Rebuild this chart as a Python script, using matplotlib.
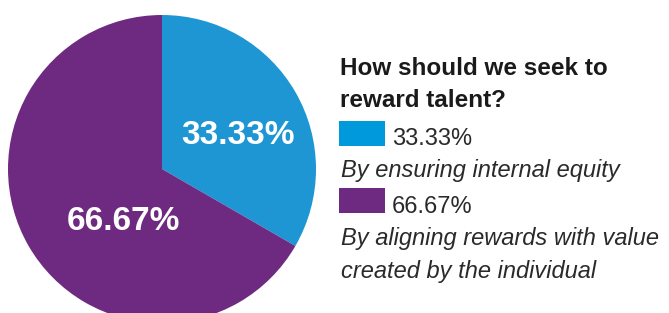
import matplotlib
matplotlib.use("Agg")
import matplotlib.pyplot as plt
from matplotlib.patches import Rectangle
import numpy as np

# Data
categories = ["By ensuring internal equity",
              "By aligning rewards with value\ncreated by the individual"]
values = [33.33, 66.67]
pie_colors = ["#1f96d4", "#6e2a80"]
legend_colors = ["#0099dc", "#6e2a80"]
title = "How should we seek to\nreward talent?"

W, H = 669, 313
fig = plt.figure(figsize=(W / 100, H / 100), dpi=100)
plt.rcParams['font.family'] = ['Liberation Sans', 'DejaVu Sans']

# Pie axes: center (162,169) px from top, radius 154
cx, cy, r = 162, 169, 154
ax = fig.add_axes([(cx - r) / W, (H - cy - r) / H, 2 * r / W, 2 * r / H])
wedges, texts, autotexts = ax.pie(values, colors=pie_colors, startangle=90,
                                  counterclock=False, radius=1,
                                  autopct='%.2f%%', pctdistance=0.5,
                                  wedgeprops=dict(linewidth=0),
                                  textprops=dict(color='white', fontsize=24,
                                                 fontweight='bold'))
ax.set_xlim(-1, 1)
ax.set_ylim(-1, 1)
ax.set_aspect('equal')
ax.axis('off')
# label positions (in pie radius units)
label_pos = [((238 - cx) / r, (cy - 135) / r), ((123 - cx) / r, (cy - 221) / r)]
for t, (x, y) in zip(autotexts, label_pos):
    t.set_position((x, y))
    t.set_ha('center')
    t.set_va('center')

def fy(py):
    return 1 - py / H

# Legend title
tl = title.split("\n")
fig.text(340 / W, fy(75), tl[0], fontsize=17.5, fontweight='bold',
         color='#1a1a1a', va='baseline', ha='left')
fig.text(340 / W, fy(107), tl[1], fontsize=17.5, fontweight='bold',
         color='#1a1a1a', va='baseline', ha='left')

# Legend entries
patch_tops = [121, 188]
pct_base = [145, 213]
desc_bases = [[177], [245, 278]]
for i in range(len(values)):
    top = patch_tops[i]
    fig.add_artist(Rectangle((339 / W, fy(top + 25)), 46 / W, 25 / H,
                             transform=fig.transFigure,
                             facecolor=legend_colors[i], edgecolor='none'))
    fig.text(392 / W, fy(pct_base[i]), f"{values[i]:.2f}%", fontsize=17,
             color='#2a2a2a', va='baseline', ha='left')
    for line, b in zip(categories[i].split("\n"), desc_bases[i]):
        fig.text(341 / W, fy(b), line, fontsize=17, style='italic',
                 color='#2a2a2a', va='baseline', ha='left')

fig.savefig("out.png", dpi=100)
